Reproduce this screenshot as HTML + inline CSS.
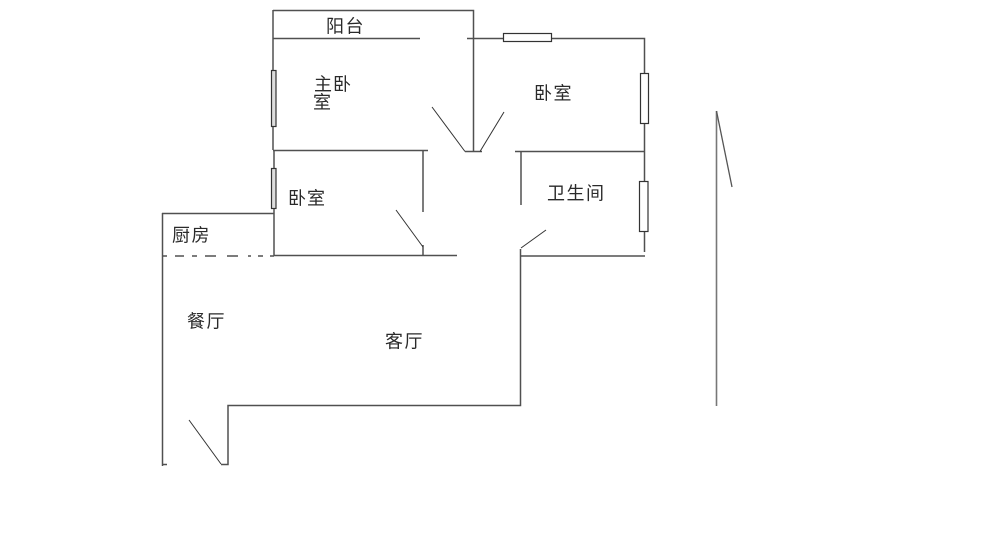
<!DOCTYPE html>
<html><head><meta charset="utf-8"><style>
html,body{margin:0;padding:0;background:#fff}
svg{display:block}
text{font-family:"Liberation Sans","Noto Sans CJK SC",sans-serif;font-size:18px;fill:#2a2a2a;font-weight:400}
</style></head><body>
<svg width="1000" height="546" viewBox="0 0 1000 546" xmlns="http://www.w3.org/2000/svg">
<rect width="1000" height="546" fill="#fff"/>
<g fill="none" stroke="#505050" stroke-width="1.500">
<path d="M273 10.500H473.500V151.500M273 10V150M274 150V256M273 38.500H420M467 38.500H644.500V252"/>
<path d="M273 150.500H428M423 150V212M423 245V255.500M274 255.500H457"/>
<path d="M465 151.500H482M515 151.500H644.500M521 151V205"/>
<path d="M521 256H645M520.500 249V405.500H228V464.500H221M162 213.500H274M162.500 213V466M162.500 464.500H167"/>
<path d="M162 256H167M175 256H184M192 256H197M205 256H216M227 256H238M248 256H251M258 256H263M270 256H274"/>
<path d="M716.500 111V406" stroke="#777" stroke-width="1.600"/>
</g>
<g fill="none" stroke="#333" stroke-width="1">
<path d="M432 107L465 151.500M480 151.500L504 112M396 210L423 247M521 248L546 230M189 420L221 464"/>
<path d="M716.500 111L732 187" stroke="#555" stroke-width="1.300"/>
</g>
<g fill="#ddd" stroke="#333" stroke-width="1.200">
<rect x="271.500" y="70.500" width="4.500" height="56"/>
<rect x="271.500" y="168.500" width="4.500" height="40"/>
</g>
<g fill="#fff" stroke="#333" stroke-width="1.200">
<rect x="503.500" y="33.500" width="48" height="8"/>
<rect x="640.500" y="73.500" width="8" height="50"/>
<rect x="639.500" y="181.500" width="8.500" height="50"/>
</g>
<text x="326" y="32.500" letter-spacing="1.500">阳台</text>
<text x="314" y="90.500" letter-spacing="1">主卧</text>
<text x="313" y="108.500">室</text>
<text x="534" y="99.500" letter-spacing="1.500">卧室</text>
<text x="288" y="204.500" letter-spacing="1">卧室</text>
<text x="547" y="199.500" letter-spacing="1.500">卫生间</text>
<text x="172" y="241.500" letter-spacing="1.500">厨房</text>
<text x="187" y="327.500" letter-spacing="1.500">餐厅</text>
<text x="385" y="347.500" letter-spacing="1.500">客厅</text>
</svg>
</body></html>
